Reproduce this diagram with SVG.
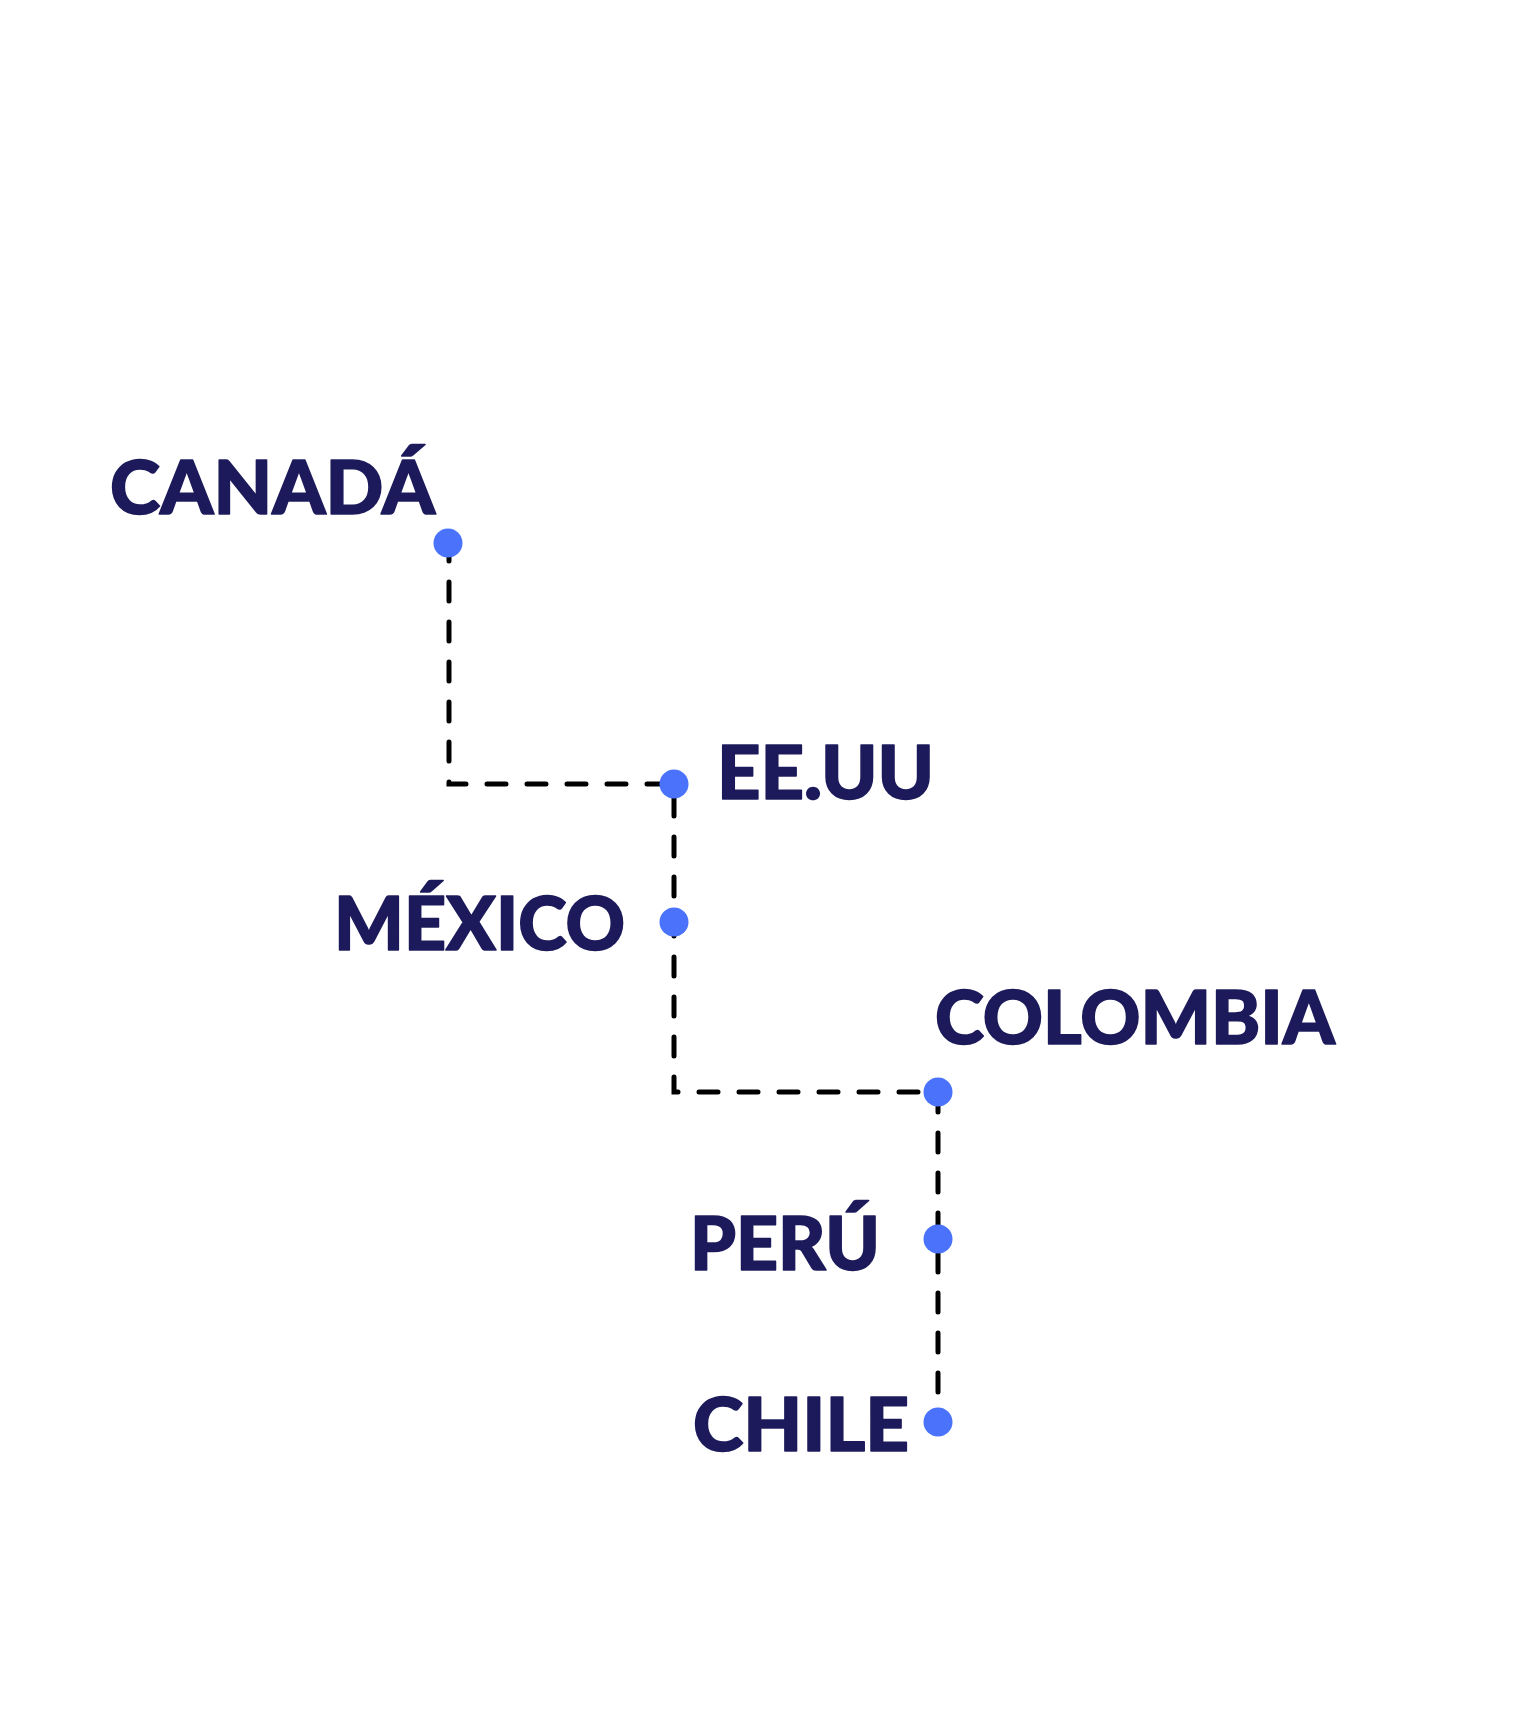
<svg xmlns="http://www.w3.org/2000/svg" width="1521" height="1721" viewBox="0 0 1521 1721">
<style>
.lbl{font-family:Lato,"Noto Sans","Liberation Sans",sans-serif;font-weight:900;font-size:74px;fill:#1c1a5a;stroke:#1c1a5a;stroke-width:1.6;stroke-linejoin:round}
.dot{fill:#4a72fa}
.conn{fill:none;stroke:#000;stroke-width:5;stroke-linecap:round;stroke-dasharray:19 21}
</style>
<rect width="1521" height="1721" fill="#fff"/>
<g id="connectors">
<path class="conn" d="M449,542 V784 H674 V1092 H938 V1422"/>
</g>
<g id="canada"><circle class="dot" cx="448" cy="543" r="14.5"/><text class="lbl" x="110" y="514" textLength="325" lengthAdjust="spacingAndGlyphs">CANADÁ</text></g>
<g id="eeuu"><circle class="dot" cx="674" cy="784" r="14.5"/><text class="lbl" x="717" y="799" textLength="217" lengthAdjust="spacingAndGlyphs">EE.UU</text></g>
<g id="mexico"><circle class="dot" cx="674" cy="922" r="14.5"/><text class="lbl" x="334" y="950" textLength="291" lengthAdjust="spacingAndGlyphs">MÉXICO</text></g>
<g id="colombia"><circle class="dot" cx="938" cy="1092" r="14.5"/><text class="lbl" x="935" y="1044" textLength="400" lengthAdjust="spacingAndGlyphs">COLOMBIA</text></g>
<g id="peru"><circle class="dot" cx="938" cy="1239" r="14.5"/><text class="lbl" x="690" y="1270" textLength="190" lengthAdjust="spacingAndGlyphs">PERÚ</text></g>
<g id="chile"><circle class="dot" cx="938" cy="1422" r="14.5"/><text class="lbl" x="693" y="1451" textLength="216" lengthAdjust="spacingAndGlyphs">CHILE</text></g>
</svg>
